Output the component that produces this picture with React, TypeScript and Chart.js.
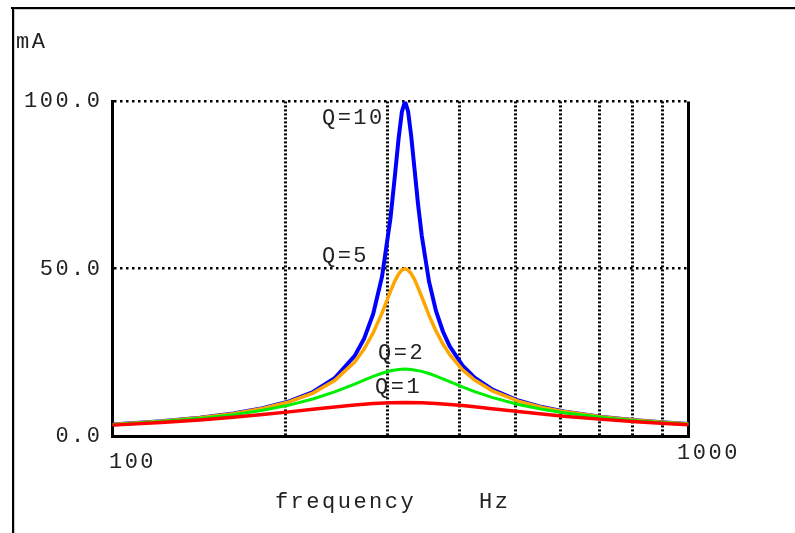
import React, { useEffect, useRef } from 'react';
import { Chart, registerables } from 'chart.js';

Chart.register(...registerables);

const FONT = '"Liberation Mono", "DejaVu Sans Mono", monospace';
const TEXT = '#222222';

// frequencies (Hz) and currents (mA)
const freqFine = [100, 121.5, 141.8, 162, 182.3, 202.5, 222.8, 243, 263.3, 273.4, 283.5, 293.7, 303.8, 308.8, 313.9, 318, 322, 326, 330.1, 334.2, 339.2, 344.3, 354.4, 364.5, 374.7, 384.8, 405, 425.3, 455.7, 506.3, 557, 607.6, 708.8, 810, 911.3, 1000];
const mAQ10 = [3.44, 4.40, 5.45, 6.72, 8.30, 10.35, 13.15, 17.27, 23.95, 29.10, 36.48, 47.61, 65.10, 76.76, 89.08, 96.94, 100, 97.01, 89.55, 80.35, 69.24, 59.84, 46.18, 37.30, 31.24, 26.89, 21.12, 17.47, 13.98, 10.62, 8.65, 7.35, 5.71, 4.72, 4.03, 3.59];
const mAQ5 = [3.43, 4.38, 5.43, 6.68, 8.22, 10.19, 12.82, 16.55, 22.12, 25.98, 30.84, 36.73, 43.20, 46.14, 48.45, 49.60, 50, 49.61, 48.52, 46.89, 44.34, 41.55, 36.06, 31.33, 27.48, 24.38, 19.83, 16.72, 13.58, 10.44, 8.56, 7.29, 5.69, 4.70, 4.02, 3.58];
const freqQ2 = [100, 121.5, 141.8, 162, 182.3, 202.5, 222.8, 243, 263.3, 273.4, 283.5, 293.7, 303.8, 313.9, 322, 330.1, 344.3, 354.4, 364.5, 384.8, 405, 425.3, 455.7, 506.3, 557, 607.6, 708.8, 810, 911.3, 1000];
const mAQ2 = [3.39, 4.30, 5.27, 6.38, 7.69, 9.23, 11.06, 13.19, 15.53, 16.71, 17.81, 18.76, 19.48, 19.90, 20, 19.90, 19.32, 18.67, 17.91, 16.26, 14.68, 13.27, 11.53, 9.42, 7.97, 6.92, 5.50, 4.59, 3.96, 3.54];
const freqQ1 = [100, 121.5, 141.8, 162, 182.3, 202.5, 222.8, 243, 263.3, 283.5, 303.8, 322, 344.3, 364.5, 384.8, 405, 425.3, 455.7, 506.3, 557, 607.6, 708.8, 810, 911.3, 1000];
const mAQ1 = [3.25, 4.03, 4.79, 5.59, 6.40, 7.21, 7.99, 8.69, 9.27, 9.69, 9.93, 10, 9.91, 9.70, 9.41, 9.08, 8.71, 8.16, 7.30, 6.56, 5.93, 4.97, 4.27, 3.74, 3.38];

// axis ticks
const xTickValues = [100, 200, 300, 400, 500, 600, 700, 800, 900, 1000];
const xLabelValues = [100, 1000];
const yTickValues = [0, 50, 100];

// curve annotations (text, anchored at frequency / mA)
const qLabels = ['Q=10', 'Q=5', 'Q=2', 'Q=1'];
const qLabelFreq = [231, 231, 289, 285.6];
const qLabelMA = [95.1, 53.8, 24.8, 14.65];

const zip = (xs: number[], ys: number[]) => xs.map((x, i) => ({ x, y: ys[i] }));

const spacingPlugin = {
  id: 'spacingFrame',
  beforeLayout(chart: any) {
    chart.ctx.letterSpacing = '2.5px';
  },
  beforeDraw(chart: any) {
    const ctx = chart.ctx;
    ctx.save();
    ctx.fillStyle = '#000';
    ctx.fillRect(11, 7, 784, 2);
    ctx.fillRect(12, 7, 2, 526);
    ctx.fillStyle = '#c8c8c8';
    ctx.fillRect(14, 9, 781, 1);
    ctx.fillRect(14, 9, 1, 524);
    ctx.restore();
    ctx.letterSpacing = '2.5px';
  },
  afterDatasetsDraw(chart: any) {
    const ctx = chart.ctx;
    const xs = chart.scales.x;
    const ys = chart.scales.y;
    ctx.save();
    ctx.letterSpacing = '2.5px';
    ctx.font = `22px ${FONT}`;
    ctx.fillStyle = TEXT;
    ctx.textAlign = 'left';
    ctx.textBaseline = 'middle';
    qLabels.forEach((t, i) => {
      ctx.fillText(t, xs.getPixelForValue(qLabelFreq[i]), ys.getPixelForValue(qLabelMA[i]));
    });
    ctx.restore();
  },
};

export default function App() {
  const ref = useRef<HTMLCanvasElement>(null);
  useEffect(() => {
    const canvas = ref.current!;
    const tickFont = { family: FONT, size: 22, lineHeight: 1.2 };
    const chart = new Chart(canvas, {
      type: 'line',
      data: {
        datasets: [
          { label: 'Q=10', data: zip(freqFine, mAQ10), borderColor: '#0000ff', borderWidth: 4, order: 4 },
          { label: 'Q=5', data: zip(freqFine, mAQ5), borderColor: '#ffa500', borderWidth: 3.5, order: 3 },
          { label: 'Q=2', data: zip(freqQ2, mAQ2), borderColor: '#00ee00', borderWidth: 3, order: 2 },
          { label: 'Q=1', data: zip(freqQ1, mAQ1), borderColor: '#ff0000', borderWidth: 3.5, order: 1 },
        ] as any,
      },
      options: {
        responsive: false,
        animation: false,
        devicePixelRatio: 1,
        elements: { point: { radius: 0 }, line: { tension: 0, fill: false } },
        layout: { padding: { left: 16, right: 106.5, top: 0, bottom: 0 } },
        plugins: {
          legend: { display: false },
          tooltip: { enabled: false },
          title: {
            display: true,
            text: 'mA',
            align: 'start',
            color: TEXT,
            font: { family: FONT, size: 22, lineHeight: 1.2, weight: 'normal' },
            padding: { top: 29, bottom: 46 },
          },
        },
        scales: {
          x: {
            type: 'logarithmic',
            min: 100,
            max: 1000,
            afterBuildTicks: (s: any) => { s.ticks = xTickValues.map((v) => ({ value: v })); },
            afterFit: (s: any) => { s.height = 97; },
            grid: { color: '#000', lineWidth: 3, drawTicks: false },
            border: {
              display: true,
              color: '#000',
              width: 3,
              dash: (c: any) => (c.type === 'tick' && c.tick && c.tick.value === 1000 ? [] : [2, 2]),
            },
            ticks: {
              autoSkip: false,
              maxRotation: 0,
              minRotation: 0,
              padding: 4,
              labelOffset: 20,
              color: TEXT,
              font: (c: any) => ({ family: FONT, size: 22, lineHeight: c.tick && c.tick.value === 100 ? '45px' : '26px' }),
              callback: (v: any) => (xLabelValues.includes(Number(v)) ? String(v) : ''),
            },
            title: {
              display: true,
              text: 'frequency    Hz ',
              color: TEXT,
              font: tickFont,
              padding: { top: 0, bottom: 18 },
            },
          },
          y: {
            min: 0,
            max: 100,
            afterBuildTicks: (s: any) => { s.ticks = yTickValues.map((v) => ({ value: v })); },
            afterFit: (s: any) => { s.width = 96.5; },
            grid: { color: '#000', lineWidth: 2.5, drawTicks: false },
            border: { display: true, color: '#000', width: 3, dash: [2.5, 3.5] },
            ticks: {
              padding: 10,
              color: TEXT,
              font: tickFont,
              callback: (v: any) => Number(v).toFixed(1),
            },
          },
        },
      } as any,
      plugins: [spacingPlugin],
    });
    return () => chart.destroy();
  }, []);
  return (
    <div style={{ position: 'fixed', left: 0, top: 0, width: 795, height: 533, background: '#fff' }}>
      <canvas ref={ref} width={795} height={533} style={{ display: 'block', width: 795, height: 533 }} />
    </div>
  );
}
